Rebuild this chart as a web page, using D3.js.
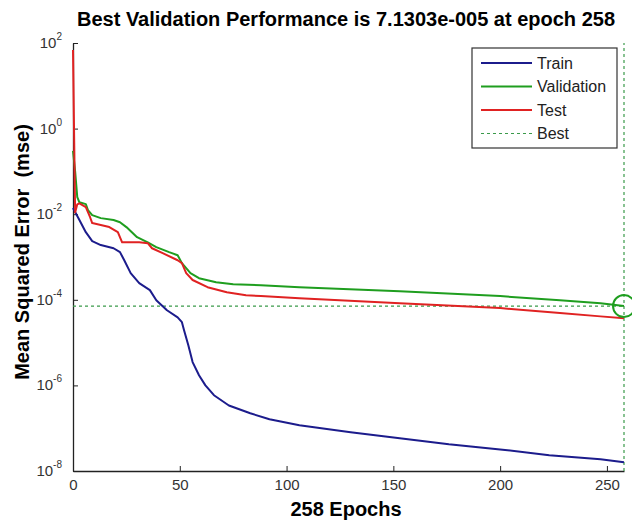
<!DOCTYPE html>
<html>
<head>
<meta charset="utf-8">
<script src="https://cdn.jsdelivr.net/npm/d3@7"></script>
<style>
  body { margin: 0; background: #fff; }
  svg { display: block; font-family: "Liberation Sans", Arial, sans-serif; }
</style>
</head>
<body>
<svg id="chart" width="632" height="523"></svg>
<script>
// values: [epoch, mse]
const trainPts = [
  [0, 1.39e-2], [1, 1.12e-2], [3, 7.3e-3], [6, 3.8e-3], [9, 2.35e-3], [13, 1.9e-3],
  [19, 1.6e-3], [22, 1.3e-3], [24, 8.4e-4], [27, 4.2e-4], [31, 2.45e-4], [36, 1.68e-4],
  [39, 9.8e-5], [44, 5.7e-5], [49, 3.9e-5], [51, 3.0e-5], [52, 1.95e-5], [54, 8.7e-6],
  [56, 3.5e-6], [59, 1.73e-6], [62, 1.0e-6], [66, 5.9e-7], [73, 3.4e-7], [83, 2.23e-7],
  [92, 1.62e-7], [106, 1.17e-7], [130, 8.0e-8], [153, 5.8e-8], [176, 4.2e-8],
  [200, 3.2e-8], [223, 2.33e-8], [247, 1.87e-8], [258, 1.6e-8]
];
const validPts = [
  [0, 0.3], [1, 0.1], [2, 2.5e-2], [3, 1.9e-2], [6, 1.72e-2], [7, 1.25e-2], [9, 9.5e-3],
  [13, 8.1e-3], [19, 7.3e-3], [22, 6.5e-3], [25, 5.0e-3], [30, 2.9e-3], [35, 2.2e-3],
  [39, 1.7e-3], [45, 1.3e-3], [49, 1.1e-3], [51, 7.2e-4], [55, 4.2e-4], [59, 3.2e-4],
  [67, 2.58e-4], [75, 2.3e-4], [88, 2.2e-4], [106, 1.97e-4], [153, 1.59e-4],
  [200, 1.22e-4], [228, 9.8e-5], [247, 8.3e-5], [258, 7.1303e-5]
];
const testPts = [
  [0, 69], [1, 1.1e-2], [2, 1.7e-2], [3, 1.8e-2], [6, 1.47e-2], [8, 8.5e-3], [9, 6.2e-3],
  [13, 5.6e-3], [17, 5.0e-3], [21, 3.8e-3], [23, 2.2e-3], [31, 2.2e-3], [35, 2.1e-3],
  [37, 1.6e-3], [42, 1.23e-3], [49, 8.4e-4], [51, 7.2e-4], [53, 4.2e-4], [56, 2.9e-4],
  [63, 1.97e-4], [72, 1.5e-4], [81, 1.28e-4], [88, 1.22e-4], [106, 1.09e-4],
  [153, 8.3e-5], [200, 6.4e-5], [228, 4.9e-5], [247, 4.1e-5], [258, 3.7e-5]
];
const bestEpoch = 258;
const bestValue = 7.1303e-5;
const xTicks = [0, 50, 100, 150, 200, 250];
const yExponents = [2, 0, -2, -4, -6, -8];

const series = [
  { name: "Train", pts: trainPts, color: "#1c1c8c" },
  { name: "Validation", pts: validPts, color: "#1f9e1f" },
  { name: "Test", pts: testPts, color: "#e02222" }
];
const bestColor = "#3a9a4a";

const svg = d3.select("#chart");
const m = { left: 73, right: 624, top: 43, bottom: 471 };

const x = d3.scaleLinear().domain([0, bestEpoch]).range([m.left, m.right]);
const y = d3.scaleLog().domain([1e-8, 1e2]).range([m.bottom, m.top]);

// title
svg.append("text")
  .attr("x", 346).attr("y", 26)
  .attr("text-anchor", "middle")
  .attr("font-size", 20).attr("font-weight", "bold")
  .text("Best Validation Performance is 7.1303e-005 at epoch 258");

// axes (ticks point inward like matlab)
const xAxis = svg.append("g").attr("transform", `translate(0,${m.bottom})`)
  .call(d3.axisBottom(x).tickValues(xTicks).tickSizeInner(-5).tickSizeOuter(0).tickPadding(8));
const yAxis = svg.append("g").attr("transform", `translate(${m.left},0)`)
  .call(d3.axisLeft(y).tickValues(yExponents.map(e => Math.pow(10, e)))
    .tickSizeInner(-5).tickSizeOuter(0).tickFormat(""));
[xAxis, yAxis].forEach(g => {
  g.select(".domain").attr("stroke", "#222").attr("stroke-width", 1.3);
  g.selectAll(".tick line").attr("stroke", "#222");
});
xAxis.selectAll(".tick text").attr("font-size", 15).attr("fill", "#333")
  .attr("font-family", "Liberation Sans, Arial, sans-serif");

// y tick labels as 10 with superscript
yExponents.forEach(e => {
  const t = svg.append("text")
    .attr("x", 62).attr("y", y(Math.pow(10, e)) + 5)
    .attr("text-anchor", "end")
    .attr("font-size", 15).attr("fill", "#333");
  t.append("tspan").text("10");
  t.append("tspan").attr("dy", -8).attr("font-size", 10).text(String(e));
});

// axis labels
svg.append("text")
  .attr("x", 346).attr("y", 516)
  .attr("text-anchor", "middle")
  .attr("font-size", 20).attr("font-weight", "bold")
  .text("258 Epochs");
svg.append("text")
  .attr("transform", "translate(29,252) rotate(-90)")
  .attr("text-anchor", "middle")
  .attr("font-size", 20).attr("font-weight", "bold")
  .style("white-space", "pre")
  .text("Mean Squared Error  (mse)");

// best markers
svg.append("line")
  .attr("x1", m.left).attr("x2", m.right)
  .attr("y1", y(bestValue)).attr("y2", y(bestValue))
  .attr("stroke", bestColor).attr("stroke-width", 1.2).attr("stroke-dasharray", "3,3");
svg.append("line")
  .attr("x1", x(bestEpoch)).attr("x2", x(bestEpoch))
  .attr("y1", m.bottom).attr("y2", m.top)
  .attr("stroke", bestColor).attr("stroke-width", 1.2).attr("stroke-dasharray", "3,3");

// curves
const line = d3.line().x(d => x(d[0])).y(d => y(d[1]));
series.forEach(s => {
  svg.append("path")
    .datum(s.pts)
    .attr("fill", "none")
    .attr("stroke", s.color)
    .attr("stroke-width", 2)
    .attr("stroke-linejoin", "round")
    .attr("d", line);
});

svg.append("circle")
  .attr("cx", x(bestEpoch)).attr("cy", y(bestValue)).attr("r", 11)
  .attr("fill", "none").attr("stroke", "#1f9e1f").attr("stroke-width", 2);

// legend
const lg = svg.append("g").attr("transform", "translate(472,48)");
lg.append("rect").attr("width", 145).attr("height", 100)
  .attr("fill", "#fff").attr("stroke", "#333").attr("stroke-width", 1.2);
const legendItems = series.map(s => ({ name: s.name, color: s.color, dash: null }))
  .concat([{ name: "Best", color: bestColor, dash: "3,3" }]);
legendItems.forEach((d, i) => {
  const yy = 15 + i * 23.5;
  lg.append("line")
    .attr("x1", 9).attr("x2", 60).attr("y1", yy).attr("y2", yy)
    .attr("stroke", d.color).attr("stroke-width", d.dash ? 1.2 : 2)
    .attr("stroke-dasharray", d.dash);
  lg.append("text")
    .attr("x", 65).attr("y", yy + 5.5)
    .attr("font-size", 16).attr("fill", "#222")
    .text(d.name);
});
</script>
</body>
</html>
